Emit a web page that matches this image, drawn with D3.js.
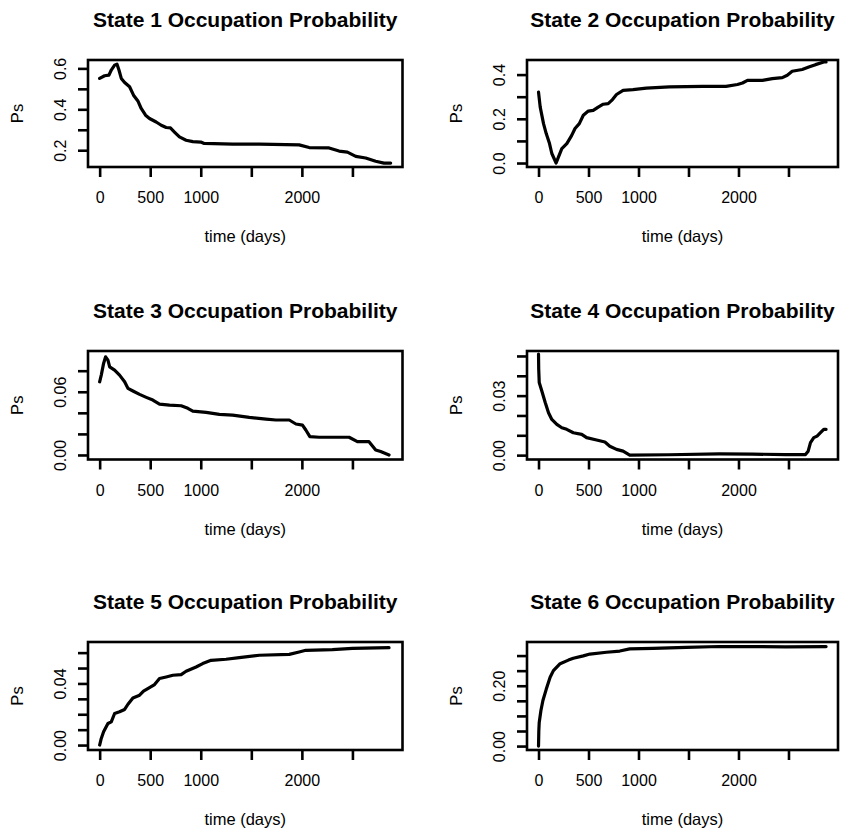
<!DOCTYPE html>
<html>
<head>
<meta charset="utf-8">
<script src="https://cdn.jsdelivr.net/npm/d3@7"></script>
<style>
  html, body { margin: 0; padding: 0; background: #fff; }
  svg { display: block; }
  text { font-family: "Liberation Sans", Arial, Helvetica, sans-serif; fill: #000; }
</style>
</head>
<body>
<script>
// ---------------- data ----------------
const titles = ["State 1 Occupation Probability", "State 2 Occupation Probability",
  "State 3 Occupation Probability", "State 4 Occupation Probability",
  "State 5 Occupation Probability", "State 6 Occupation Probability"];

const xTicks = [0, 500, 1000, 1500, 2000, 2500];
const xTickLabels = ["0", "500", "1000", "", "2000", ""];
const xDataRange = [0, 2880];

const s1Days = [0, 49, 92, 115, 148, 171, 191, 214, 247, 296, 335, 378, 411, 454, 493, 559, 609, 658, 700, 740, 789, 855, 921, 1000, 1034, 1316, 1579, 1973, 2072, 2269, 2368, 2450, 2533, 2631, 2730, 2812, 2878];
const s1Ps = [0.551, 0.564, 0.567, 0.592, 0.616, 0.621, 0.592, 0.551, 0.531, 0.51, 0.469, 0.441, 0.404, 0.371, 0.355, 0.338, 0.322, 0.311, 0.309, 0.289, 0.265, 0.249, 0.242, 0.24, 0.233, 0.23, 0.23, 0.226, 0.213, 0.211, 0.196, 0.191, 0.17, 0.162, 0.146, 0.137, 0.137];

const s2Days = [0, 17, 50, 77, 110, 133, 176, 199, 233, 283, 332, 365, 408, 448, 498, 547, 597, 647, 697, 740, 780, 846, 945, 1078, 1310, 1642, 1875, 1990, 2040, 2090, 2239, 2338, 2438, 2488, 2537, 2637, 2703, 2770, 2853, 2876];
const s2Ps = [0.321, 0.253, 0.178, 0.133, 0.088, 0.043, 0.0, 0.027, 0.065, 0.088, 0.125, 0.156, 0.178, 0.216, 0.235, 0.238, 0.253, 0.266, 0.269, 0.287, 0.31, 0.329, 0.332, 0.339, 0.344, 0.347, 0.347, 0.355, 0.362, 0.374, 0.374, 0.382, 0.386, 0.397, 0.415, 0.423, 0.434, 0.445, 0.457, 0.457];

const s3Days = [0, 16, 39, 59, 82, 99, 148, 197, 247, 280, 329, 395, 461, 526, 592, 691, 806, 872, 921, 1053, 1184, 1315, 1480, 1645, 1743, 1875, 1941, 2006, 2039, 2079, 2171, 2467, 2549, 2664, 2730, 2779, 2862];
const s3Ps = [0.0695, 0.0758, 0.0869, 0.0932, 0.090, 0.0837, 0.0806, 0.0758, 0.0695, 0.0632, 0.0607, 0.0575, 0.0547, 0.0521, 0.0483, 0.0474, 0.0467, 0.0443, 0.0417, 0.0405, 0.0386, 0.0379, 0.0357, 0.0341, 0.0332, 0.0332, 0.0294, 0.0284, 0.0237, 0.0174, 0.0168, 0.0168, 0.0126, 0.0126, 0.0047, 0.0032, 0.0];

const s4Days = [0, 2, 7, 33, 67, 100, 133, 183, 233, 282, 348, 432, 481, 581, 664, 713, 780, 846, 912, 1300, 1808, 2140, 2471, 2670, 2697, 2720, 2753, 2786, 2820, 2853, 2876];
const s4Ps = [0.0509, 0.0433, 0.0366, 0.0323, 0.0265, 0.0214, 0.018, 0.0155, 0.0138, 0.013, 0.0113, 0.0105, 0.0088, 0.0076, 0.0066, 0.0045, 0.0029, 0.002, 0.0, 0.0002, 0.0006, 0.0005, 0.0003, 0.0003, 0.002, 0.0063, 0.0088, 0.0096, 0.0113, 0.013, 0.013];

const s5Days = [0, 16, 39, 82, 115, 148, 197, 247, 280, 329, 395, 434, 493, 543, 592, 658, 724, 806, 855, 954, 1019, 1102, 1250, 1381, 1579, 1875, 1973, 2039, 2302, 2500, 2862];
const s5Ps = [0.0, 0.0043, 0.0086, 0.014, 0.0151, 0.0205, 0.0216, 0.0231, 0.0265, 0.0306, 0.0324, 0.035, 0.0373, 0.0393, 0.0432, 0.0442, 0.0453, 0.0457, 0.0479, 0.0507, 0.0529, 0.055, 0.0557, 0.0568, 0.0583, 0.0589, 0.0604, 0.0615, 0.0619, 0.0628, 0.0632];

const s6Days = [0, 3, 7, 24, 44, 77, 116, 149, 216, 299, 348, 448, 514, 680, 813, 912, 1144, 1477, 1808, 2140, 2470, 2876];
const s6Ps = [0.0, 0.05, 0.078, 0.118, 0.151, 0.188, 0.228, 0.25, 0.273, 0.285, 0.291, 0.299, 0.305, 0.311, 0.315, 0.322, 0.324, 0.327, 0.33, 0.33, 0.329, 0.33];

const yDomains = [[0.118, 0.641], [-0.018, 0.466], [-0.0043, 0.0987], [-0.0022, 0.0525], [-0.0032, 0.0669], [-0.013, 0.345]];
const yTicks = [[0.2, 0.3, 0.4, 0.5, 0.6], [0, 0.1, 0.2, 0.3, 0.4], [0, 0.02, 0.04, 0.06, 0.08],
  [0, 0.01, 0.02, 0.03, 0.04, 0.05], [0, 0.01, 0.02, 0.03, 0.04, 0.05, 0.06], [0, 0.05, 0.1, 0.15, 0.2, 0.25, 0.3]];
const yTickLabels = [["0.2", "", "0.4", "", "0.6"], ["0.0", "", "0.2", "", "0.4"], ["0.00", "", "", "0.06", ""],
  ["0.00", "", "", "0.03", "", ""], ["0.00", "", "", "", "0.04", "", ""], ["0.00", "", "", "", "0.20", "", ""]];

const seriesDays = [s1Days, s2Days, s3Days, s4Days, s5Days, s6Days];
const seriesPs = [s1Ps, s2Ps, s3Ps, s4Ps, s5Ps, s6Ps];

// ---------------- layout ----------------
const W = 841, H = 834;
const colLeft = [88, 527], colRight = [402.5, 838];
const rowTop = [60, 351, 642], rowBottom = [167, 459.5, 750];

const svg = d3.select("body").append("svg").attr("width", W).attr("height", H);

const pad = (xDataRange[1] - xDataRange[0]) * 0.04;

for (let i = 0; i < 6; i++) {
  const c = i % 2, r = Math.floor(i / 2);
  const L = colLeft[c], R = colRight[c], T = rowTop[r], B = rowBottom[r];
  const x = d3.scaleLinear().domain([xDataRange[0] - pad, xDataRange[1] + pad]).range([L, R]);
  const y = d3.scaleLinear().domain(yDomains[i]).range([B, T]);
  const g = svg.append("g");

  // curve
  const pts = seriesDays[i].map((d, k) => [d, seriesPs[i][k]]);
  g.append("path")
    .datum(pts)
    .attr("fill", "none")
    .attr("stroke", "#000")
    .attr("stroke-width", 3.2)
    .attr("stroke-linejoin", "round")
    .attr("stroke-linecap", "round")
    .attr("d", d3.line().x(d => x(d[0])).y(d => y(d[1])));

  // box
  g.append("rect")
    .attr("x", L).attr("y", T).attr("width", R - L).attr("height", B - T)
    .attr("fill", "none").attr("stroke", "#000").attr("stroke-width", 2.6);

  // x axis
  const xa = g.append("g").attr("transform", `translate(0,${B})`)
    .call(d3.axisBottom(x).tickValues(xTicks).tickSize(10)
      .tickFormat((d, k) => xTickLabels[k]));
  xa.select(".domain").remove();
  xa.selectAll(".tick line").attr("stroke", "#000").attr("stroke-width", 2.6);
  xa.selectAll(".tick text").attr("y", 36).attr("dy", null)
    .style("font-size", "16px").attr("fill", "#000");

  // y axis
  const ya = g.append("g").attr("transform", `translate(${L},0)`)
    .call(d3.axisLeft(y).tickValues(yTicks[i]).tickSize(10)
      .tickFormat((d, k) => yTickLabels[i][k]));
  ya.select(".domain").remove();
  ya.selectAll(".tick line").attr("stroke", "#000").attr("stroke-width", 2.6);
  ya.selectAll(".tick text")
    .attr("transform", "rotate(-90)")
    .attr("x", 0).attr("y", -22).attr("dy", null)
    .attr("text-anchor", "middle")
    .style("font-size", "16px").attr("fill", "#000");

  // title
  g.append("text")
    .attr("x", (L + R) / 2).attr("y", T - 33)
    .attr("text-anchor", "middle")
    .style("font-size", "21px").style("font-weight", "bold")
    .text(titles[i]);

  // x label
  g.append("text")
    .attr("x", (L + R) / 2).attr("y", B + 75)
    .attr("text-anchor", "middle")
    .style("font-size", "16.5px")
    .text("time (days)");

  // y label
  g.append("text")
    .attr("transform", `translate(${L - 65},${(T + B) / 2}) rotate(-90)`)
    .attr("text-anchor", "middle")
    .style("font-size", "16.5px")
    .text("Ps");
}
</script>
</body>
</html>
